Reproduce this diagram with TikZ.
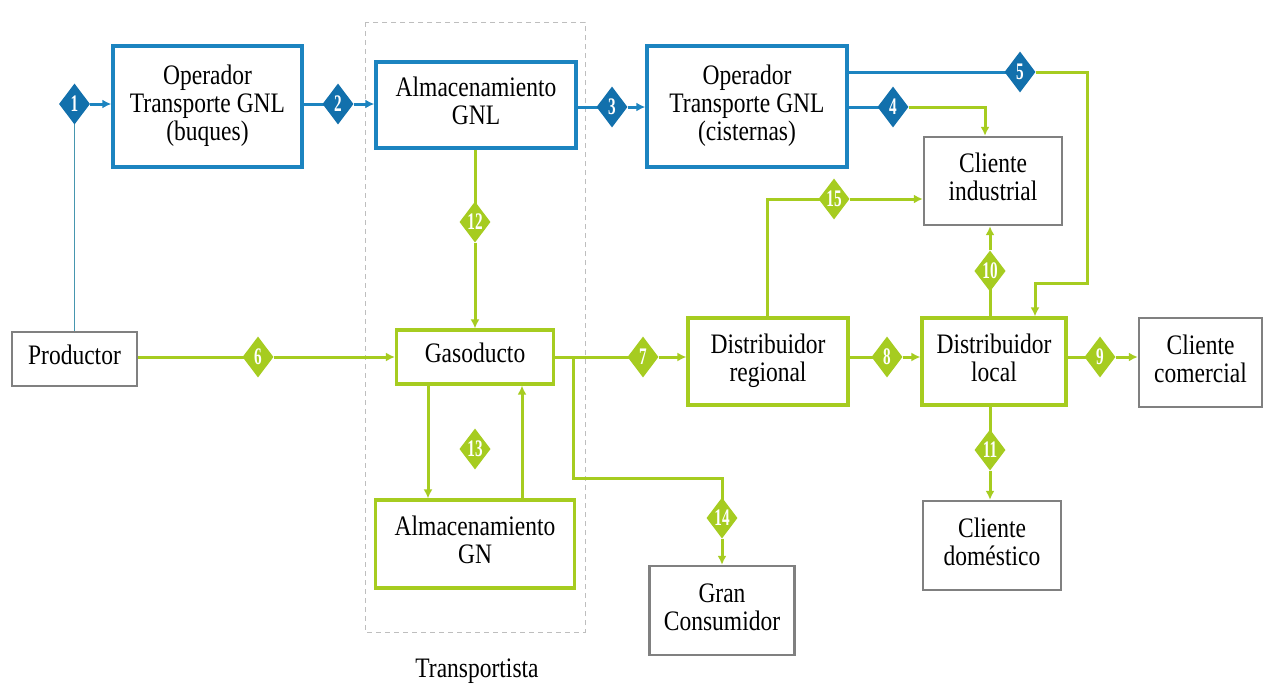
\documentclass[tikz,border=0pt]{standalone}
\usepackage{graphicx}
\usepackage{fontspec}
\setmainfont{Liberation Serif}
\usetikzlibrary{arrows.meta,shapes.geometric}
\definecolor{gblue}{RGB}{28,132,192}
\definecolor{dblue}{RGB}{18,112,172}
\definecolor{ggreen}{RGB}{166,204,32}
\definecolor{ggray}{RGB}{128,128,128}
\definecolor{lgray}{RGB}{190,190,190}
\definecolor{teal}{RGB}{70,150,175}
\newcommand\bt[1]{\scalebox{1}[1.2]{\begin{tabular}{@{}c@{}}#1\end{tabular}}}
\newcommand\dn[1]{\scalebox{0.8}[1.25]{#1}}
\begin{document}
\begin{tikzpicture}[x=1pt,y=-1pt,
  every node/.style={font=\fontsize{23.5}{23.3}\selectfont},
  bbox/.style={draw=gblue,line width=3.4pt,fill=white,inner sep=0pt},
  gbox/.style={draw=ggreen,line width=3.2pt,fill=white,inner sep=0pt},
  ybox/.style={draw=ggray,line width=2.4pt,fill=white,inner sep=0pt},
  bd/.style={shape=diamond,fill=dblue,text=white,inner sep=0pt,minimum width=31pt,minimum height=41pt,font=\fontsize{19}{19}\selectfont\bfseries},
  gd/.style={shape=diamond,fill=ggreen,text=white,inner sep=0pt,minimum width=31pt,minimum height=41pt,font=\fontsize{19}{19}\selectfont\bfseries},
  bl/.style={draw=gblue,line width=3pt},
  gl/.style={draw=ggreen,line width=3pt},
  arr/.style={-{Latex[length=9pt,width=9pt]}}
]
\useasboundingbox[fill=white] (0,0) rectangle (1263,689);
% Transportista region
\draw[lgray,line width=1pt,dash pattern=on 5pt off 4pt] (365,22) rectangle (585,632);
\node (tr) at (477,672) {\bt{Transportista}};
% boxes
\node[ybox,minimum width=125pt,minimum height=54pt] (prod) at (74.5,359) {\bt{Productor}};
\node[bbox,minimum width=189pt,minimum height=121pt] (buq) at (207.5,106.5) {\bt{Operador\\Transporte GNL\\(buques)}};
\node[bbox,minimum width=200pt,minimum height=86pt] (agnl) at (476,105) {\bt{Almacenamiento\\GNL}};
\node[bbox,minimum width=200pt,minimum height=121pt] (cis) at (747,106.5) {\bt{Operador\\Transporte GNL\\(cisternas)}};
\node[ybox,minimum width=138pt,minimum height=88pt] (cind) at (993,181) {\bt{Cliente\\industrial}};
\node[gbox,minimum width=157pt,minimum height=54pt] (gas) at (475,357) {\bt{Gasoducto}};
\node[gbox,minimum width=160pt,minimum height=87pt] (dreg) at (768,361.5) {\bt{Distribuidor\\regional}};
\node[gbox,minimum width=144pt,minimum height=87pt] (dloc) at (994,361.5) {\bt{Distribuidor\\local}};
\node[ybox,minimum width=123pt,minimum height=89pt] (ccom) at (1200.5,362.5) {\bt{Cliente\\comercial}};
\node[gbox,minimum width=199pt,minimum height=88pt] (agn) at (475,544) {\bt{Almacenamiento\\GN}};
\node[ybox,minimum width=145pt,minimum height=89pt] (gcon) at (722,610.5) {\bt{Gran\\Consumidor}};
\node[ybox,minimum width=138pt,minimum height=89pt] (cdom) at (992,545.5) {\bt{Cliente\\doméstico}};
% junction coordinates
\coordinate (k1) at (1087,283);
\coordinate (j1) at (573,357);
\coordinate (j2) at (573,478);
\coordinate (j3) at (767,199);
% blue flows
\draw[teal,line width=1.4pt] (prod.north) -- (74.5,104);
\node[bd] (d1) at (74.5,104) {\dn{1}};
\draw[bl,arr] (d1) -- (d1 -| buq.west);
\draw[bl] (buq.east |- 0,104) -- (338,104);
\node[bd] (d2) at (338,104) {\dn{2}};
\draw[bl,arr] (d2) -- (d2 -| agnl.west);
\draw[bl] (agnl.east |- 0,107) -- (612,107);
\node[bd] (d3) at (612,107) {\dn{3}};
\draw[bl,arr] (d3) -- (d3 -| cis.west);
\draw[bl] (cis.east |- 0,107) -- (893,107);
\node[bd] (d4) at (893,107) {\dn{4}};
\draw[gl,arr] (d4) -| ([xshift=-8pt]cind.north);
\draw[bl] (cis.east |- 0,72) -- (1020,72);
\node[bd] (d5) at (1020,72) {\dn{5}};
\draw[gl,arr] (d5) -| (k1) -| ([xshift=41pt]dloc.north);
% green flows
\draw[gl] (prod.east |- 0,357) -- (258,357);
\node[gd] (d6) at (258,357) {\dn{6}};
\draw[gl,arr] (d6) -- (d6 -| gas.west);
\draw[gl] (agnl.south -| 475,0) -- (475,222);
\node[gd] (d12) at (475,222) {\dn{12}};
\draw[gl,arr] (d12) -- (d12 |- gas.north);
\draw[gl,arr] ([xshift=-47pt]gas.south) -- ([xshift=-47pt]agn.north);
\draw[gl,arr] ([xshift=47pt]agn.north) -- ([xshift=47pt]gas.south);
\node[gd] (d13) at (475,449) {\dn{13}};
\draw[gl] (gas.east |- 0,357) -- (643,357);
\node[gd] (d7) at (643,357) {\dn{7}};
\draw[gl,arr] (d7) -- (d7 -| dreg.west);
\draw[gl] (j1) -- (j2) -| (722,518);
\node[gd] (d14) at (722,518) {\dn{14}};
\draw[gl,arr] (d14) -- (d14 |- gcon.north);
\draw[gl] (dreg.east |- 0,357) -- (887,357);
\node[gd] (d8) at (887,357) {\dn{8}};
\draw[gl,arr] (d8) -- (d8 -| dloc.west);
\draw[gl] (dloc.east |- 0,357) -- (1100,357);
\node[gd] (d9) at (1100,357) {\dn{9}};
\draw[gl,arr] (d9) -- (d9 -| ccom.west);
\draw[gl] (dloc.north -| 990,0) -- (990,271);
\node[gd] (d10) at (990,271) {\dn{10}};
\draw[gl,arr] (d10) -- (d10 |- cind.south);
\draw[gl] (dloc.south -| 990,0) -- (990,450);
\node[gd] (d11) at (990,450) {\dn{11}};
\draw[gl,arr] (d11) -- (d11 |- cdom.north);
\draw[gl] (dreg.north -| j3) -- (j3) -- (834,199);
\node[gd] (d15) at (834,199) {\dn{15}};
\draw[gl,arr] (d15) -- (d15 -| cind.west);
\end{tikzpicture}
\end{document}
